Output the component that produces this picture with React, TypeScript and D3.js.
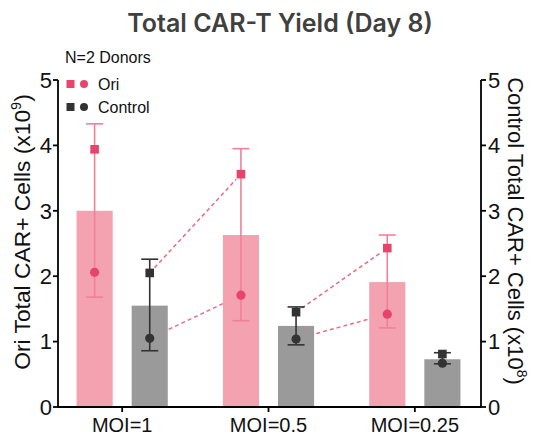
import * as d3 from "d3";

const groups = ["MOI=1", "MOI=0.5", "MOI=0.25"];
const series = ["Ori", "Control"];
// bar means (Ori on left axis x10^9, Control on right axis x10^8)
const oriMean = [3.0, 2.63, 1.91];
const ctrlMean = [1.55, 1.24, 0.73];
// error bar ends
const oriHi = [4.33, 3.95, 2.63];
const oriLo = [1.68, 1.32, 1.21];
const ctrlHi = [2.26, 1.53, 0.83];
const ctrlLo = [0.86, 0.95, 0.66];
// donor points: square = donor 1, circle = donor 2
const oriSq = [3.94, 3.56, 2.43];
const oriCi = [2.06, 1.71, 1.42];
const ctrlSq = [2.05, 1.45, 0.81];
const ctrlCi = [1.05, 1.04, 0.67];
const yTicks = [0, 1, 2, 3, 4, 5];

const W = 534;
const H = 437;
const axL = 58;
const axR = 481;
const yTop = 80;
const yBot = 407;

const PINK_BAR = "#f4a1b0";
const PINK = "#e8446b";
const PINK_ERR = "#f0819a";
const PINK_DASH = "#e9698a";
const GREY_BAR = "#9a9a9a";
const DARK = "#333333";
const font = "'Liberation Sans', Arial, sans-serif";

export default function App() {
  const x = d3.scaleBand<string>().domain(groups).range([49, 488]).padding(0);
  const inner = d3
    .scaleBand<string>()
    .domain(series)
    .range([0, x.bandwidth()])
    .paddingInner(0.345)
    .paddingOuter(0.5);
  const y = d3.scaleLinear().domain([0, 5]).range([yBot, yTop]);
  const bw = inner.bandwidth();
  const cx = (g: string, s: string) => (x(g) ?? 0) + (inner(s) ?? 0) + bw / 2;
  const cap = 8.5;
  const sq = 8.6;

  const dashed = (x1: number, y1: number, x2: number, y2: number, key: string) => {
    const dx = x2 - x1;
    const dy = y2 - y1;
    const len = Math.hypot(dx, dy);
    const off = 7;
    return (
      <line
        key={key}
        x1={x1 + (dx / len) * off}
        y1={y1 + (dy / len) * off}
        x2={x2 - (dx / len) * off}
        y2={y2 - (dy / len) * off}
        stroke={PINK_DASH}
        strokeWidth={1.5}
        strokeDasharray="4,3"
      />
    );
  };

  return (
    <svg width={W} height={H} style={{ position: "absolute", left: 0, top: 0 }}>
      <rect width={W} height={H} fill="#fff" />
      <text
        x={280}
        y={32}
        textAnchor="middle"
        fontFamily="Inter, sans-serif"
        fontWeight={600}
        fontSize={25}
        fill="#404040"
      >
        Total CAR-T Yield (Day 8)
      </text>

      {/* legend */}
      <g fontFamily={font} fontSize={16} fill="#111">
        <text x={65} y={63}>N=2 Donors</text>
        <rect x={70.5 - 4} y={80} width={8} height={8} fill={PINK} />
        <circle cx={84} cy={84} r={4} fill={PINK} />
        <text x={98} y={90}>Ori</text>
        <rect x={70.5 - 4} y={103} width={8} height={8} fill={DARK} />
        <circle cx={84} cy={107} r={4} fill={DARK} />
        <text x={98} y={113}>Control</text>
      </g>

      {/* dashed donor lines */}
      {groups.slice(0, 2).map((g, i) => {
        const g2 = groups[i + 1];
        return (
          <g key={g}>
            {dashed(cx(g, "Control"), y(ctrlSq[i]), cx(g2, "Ori"), y(oriSq[i + 1]), "s")}
            {dashed(cx(g, "Control"), y(ctrlCi[i]), cx(g2, "Ori"), y(oriCi[i + 1]), "c")}
          </g>
        );
      })}

      {/* bars */}
      {groups.map((g, i) => (
        <g key={g}>
          <rect
            x={cx(g, "Ori") - bw / 2}
            y={y(oriMean[i])}
            width={bw}
            height={yBot - y(oriMean[i])}
            fill={PINK_BAR}
          />
          <rect
            x={cx(g, "Control") - bw / 2}
            y={y(ctrlMean[i])}
            width={bw}
            height={yBot - y(ctrlMean[i])}
            fill={GREY_BAR}
          />
        </g>
      ))}

      {/* error bars and points */}
      {groups.map((g, i) => {
        const xo = cx(g, "Ori");
        const xc = cx(g, "Control");
        return (
          <g key={g}>
            <g stroke={PINK_ERR} strokeWidth={1.6}>
              <line x1={xo} x2={xo} y1={y(oriHi[i])} y2={y(oriLo[i])} />
              <line x1={xo - cap} x2={xo + cap} y1={y(oriHi[i])} y2={y(oriHi[i])} />
              <line x1={xo - cap} x2={xo + cap} y1={y(oriLo[i])} y2={y(oriLo[i])} />
            </g>
            <rect x={xo - sq / 2} y={y(oriSq[i]) - sq / 2} width={sq} height={sq} fill={PINK} />
            <circle cx={xo} cy={y(oriCi[i])} r={4.6} fill={PINK} />
            <g stroke={DARK} strokeWidth={1.6}>
              <line x1={xc} x2={xc} y1={y(ctrlHi[i])} y2={y(ctrlLo[i])} />
              <line x1={xc - cap} x2={xc + cap} y1={y(ctrlHi[i])} y2={y(ctrlHi[i])} />
              <line x1={xc - cap} x2={xc + cap} y1={y(ctrlLo[i])} y2={y(ctrlLo[i])} />
            </g>
            <rect x={xc - sq / 2} y={y(ctrlSq[i]) - sq / 2} width={sq} height={sq} fill={DARK} />
            <circle cx={xc} cy={y(ctrlCi[i])} r={4.6} fill={DARK} />
          </g>
        );
      })}

      {/* axes */}
      <g stroke="#000" strokeWidth={1.8} fill="none">
        <line x1={axL} x2={axL} y1={yTop} y2={yBot} />
        <line x1={axR} x2={axR} y1={yTop} y2={yBot} />
        <line x1={axL} x2={axR} y1={yBot} y2={yBot} />
        {yTicks.map((t) => (
          <g key={t}>
            <line x1={axL - 5} x2={axL} y1={y(t)} y2={y(t)} />
            <line x1={axR} x2={axR + 5} y1={y(t)} y2={y(t)} />
          </g>
        ))}
        {groups.map((g) => {
          const c = (x(g) ?? 0) + x.bandwidth() / 2;
          return <line key={g} x1={c} x2={c} y1={yBot} y2={yBot + 5} />;
        })}
      </g>
      <g fontFamily={font} fontSize={22} fill="#111">
        {yTicks.map((t) => (
          <g key={t}>
            <text x={axL - 6} y={y(t)} dy="0.35em" textAnchor="end">{t}</text>
            <text x={axR + 7} y={y(t)} dy="0.35em" textAnchor="start">{t}</text>
          </g>
        ))}
      </g>
      <g fontFamily={font} fontSize={20} fill="#111">
        {groups.map((g) => (
          <text key={g} x={(x(g) ?? 0) + x.bandwidth() / 2} y={432} textAnchor="middle">
            {g}
          </text>
        ))}
      </g>

      {/* axis titles */}
      <text
        transform={`translate(30, 232) rotate(-90)`}
        textAnchor="middle"
        fontFamily={font}
        fontSize={22.8}
        fill="#111"
      >
        Ori Total CAR+ Cells (x10
        <tspan fontSize={14.5} dy={-9}>9</tspan>
        <tspan dy={9}>)</tspan>
      </text>
      <text
        transform={`translate(508, 231) rotate(90)`}
        textAnchor="middle"
        fontFamily={font}
        fontSize={22}
        fill="#111"
      >
        Control Total CAR+ Cells (x10
        <tspan fontSize={14} dy={-9}>8</tspan>
        <tspan dy={9}>)</tspan>
      </text>
    </svg>
  );
}
